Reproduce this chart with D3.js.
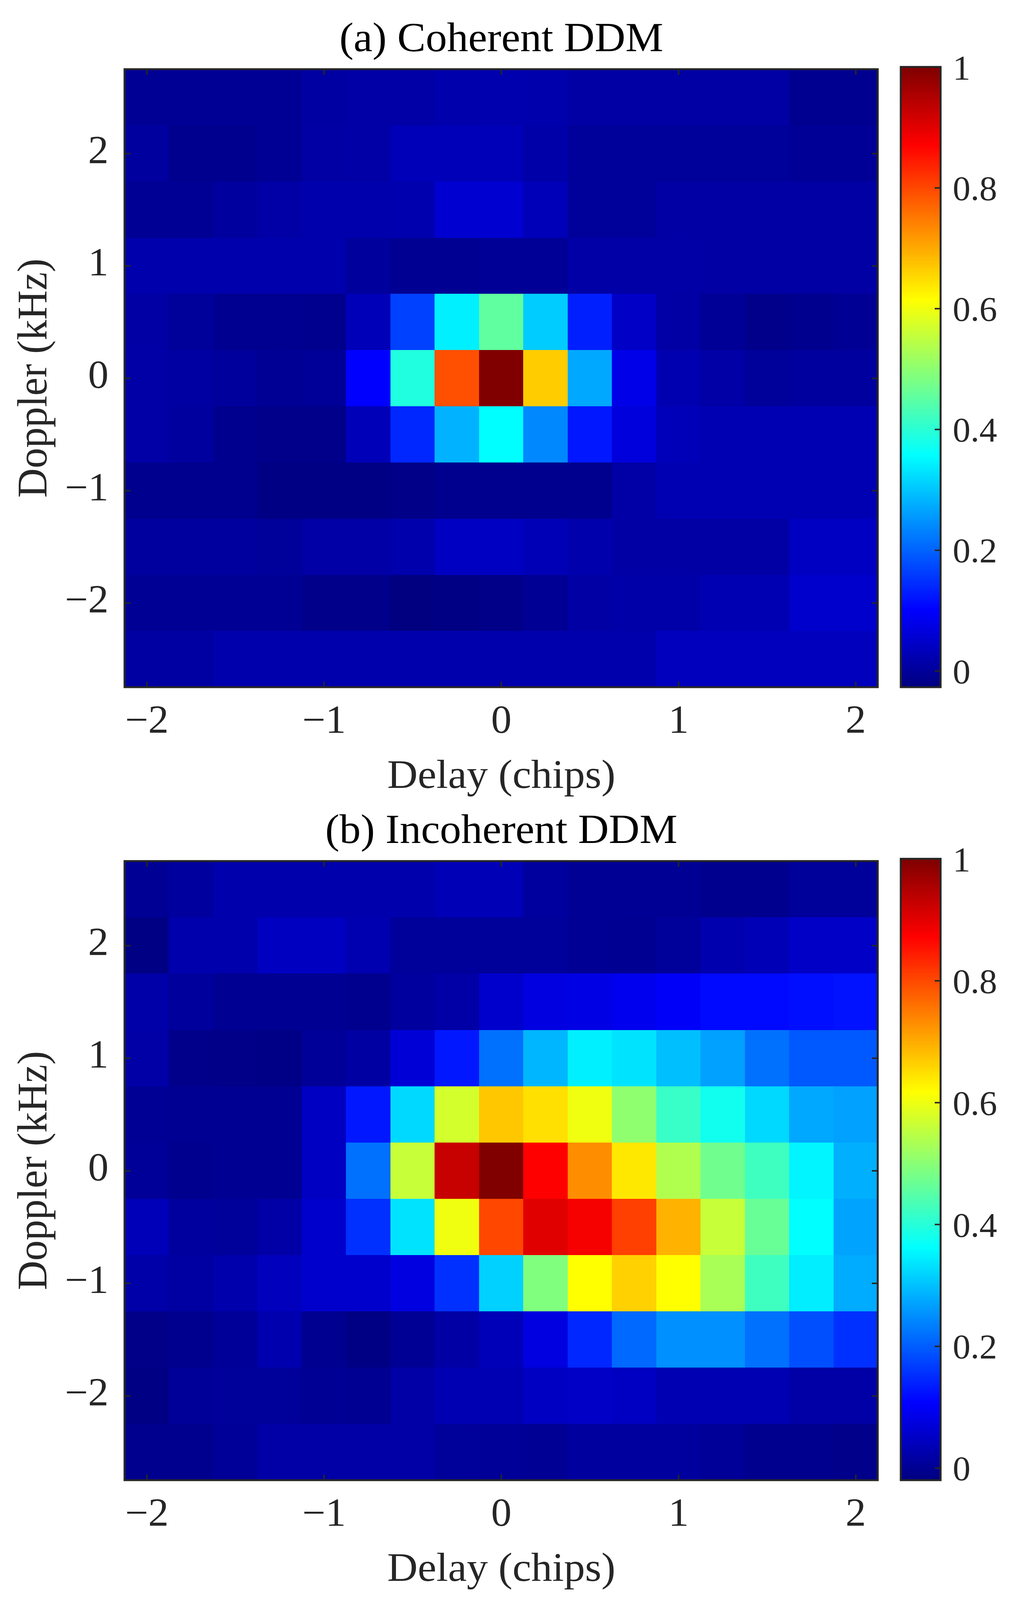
<!DOCTYPE html>
<html>
<head>
<meta charset="utf-8">
<script src="https://cdn.jsdelivr.net/npm/d3@7/dist/d3.min.js"></script>
<style>
html,body{margin:0;padding:0;background:#fff;overflow:hidden}
svg{display:block;width:100vw;height:100vh}
text{font-family:"Liberation Serif","Times New Roman",serif}
</style>
</head>
<body>
<script>
const delays = [-2,-1.75,-1.5,-1.25,-1,-0.75,-0.5,-0.25,0,0.25,0.5,0.75,1,1.25,1.5,1.75,2];
const dopplers = [2.5,2,1.5,1,0.5,0,-0.5,-1,-1.5,-2,-2.5];
const xTicks = [-2,-1,0,1,2];
const yTicks = [-2,-1,0,1,2];
const cTicks = [0,0.2,0.4,0.6,0.8,1];

const coherent = [
[-.006,-.006,-.006,-.006,.008,.012,.012,.018,.02,.018,.01,.01,.01,.01,.01,-.01,-.01],
[.005,-.012,-.012,-.005,.01,.012,.03,.03,.03,.015,0,0,0,0,0,-.003,-.003],
[-.006,-.006,.005,.012,.018,.018,.02,.055,.055,.03,0,0,.01,.01,.01,.01,.01],
[.018,.018,.018,.018,.018,.002,-.008,-.008,-.004,-.004,.012,.012,.012,.01,.01,.01,.01],
[.01,0,-.01,-.01,-.012,.03,.166,.343,.455,.307,.133,.045,.01,-.004,-.015,-.012,-.005],
[.012,.008,.002,-.005,-.002,.101,.39,.792,1,.666,.271,.078,.022,.012,0,.005,.005],
[.012,.005,-.012,-.015,-.015,.03,.141,.281,.358,.238,.125,.066,.03,.025,.025,.025,.025],
[-.012,-.012,-.012,-.022,-.022,-.022,-.018,-.012,-.012,-.012,-.012,.012,.025,.025,.025,.025,.025],
[.005,.005,.005,0,.012,.012,.018,.04,.04,.028,.018,.01,.01,.01,.01,.04,.04],
[-.005,-.005,-.005,-.005,-.015,-.015,-.025,-.022,-.018,-.005,.01,.015,.015,.025,.025,.05,.05],
[.008,.008,.018,.018,.018,.018,.018,.018,.018,.018,.018,.018,.035,.035,.035,.035,.035]
];
const incoherent = [
[-.005,.005,.018,.018,.018,.018,.018,.028,.028,.005,-.005,-.005,-.005,-.012,-.012,0,0],
[-.022,.018,.018,.038,.038,.022,0,0,0,0,-.005,-.008,0,.02,.028,.045,.045],
[.015,.002,-.008,-.008,-.008,-.012,.005,.012,.05,.07,.075,.085,.095,.11,.11,.115,.12],
[.012,-.015,-.018,-.02,-.002,.008,.06,.125,.214,.286,.343,.33,.294,.263,.214,.19,.19],
[-.005,-.008,-.008,-.008,.04,.125,.32,.571,.671,.646,.6,.503,.415,.374,.32,.271,.263],
[-.002,-.012,-.008,-.008,.04,.214,.558,.928,1,.872,.73,.638,.535,.471,.422,.348,.279],
[.03,.005,0,.012,.05,.15,.33,.6,.8,.902,.88,.807,.692,.558,.463,.358,.266],
[.015,.008,.018,.035,.05,.05,.07,.15,.312,.487,.615,.661,.615,.528,.422,.341,.275],
[-.018,-.012,-.002,.02,-.01,-.022,-.005,.01,.03,.07,.141,.207,.246,.246,.214,.181,.15],
[-.022,-.002,0,0,-.005,-.008,.012,.025,.025,.04,.045,.04,.025,.025,.025,.012,.012],
[-.012,-.012,-.002,.012,.012,.012,.012,0,-.002,-.005,.005,.005,.005,-.002,-.012,-.012,-.015]
];

const W = 2597, H = 4233;
const panels = [
  {title:"(a) Coherent DDM",   grid:coherent,   top:183,  bottom:1818, barTop:177,  cMin:-0.027, titleY:135},
  {title:"(b) Incoherent DDM", grid:incoherent, top:2278, bottom:3916, barTop:2272, cMin:-0.020, titleY:2230}
];
const left = 319, right = 2248, barL = 2307, barR = 2409;
const ink = "#262626";

const clamp = v => Math.max(0, Math.min(1, v));
function jet(t){
  const r = clamp(Math.min(4*t-1.5, -4*t+4.5));
  const g = clamp(Math.min(4*t-0.5, -4*t+3.5));
  const b = clamp(Math.min(4*t+0.5, -4*t+2.5));
  return d3.rgb(r*255, g*255, b*255).formatHex();
}
// cells were read against one common colour limit
const cellT = d3.scaleLinear().domain([-0.027,1]).range([0,1]);

// The browser window may be shorter than the reference: keep the whole figure in view.
const svg = d3.select("body").append("svg")
  .attr("viewBox",`0 0 ${W} ${H}`).attr("preserveAspectRatio","none");
svg.append("rect").attr("width",W).attr("height",H).attr("fill","#fff");

function styleAxis(g, size){
  g.select(".domain").remove();
  g.selectAll("line").attr("stroke",ink).attr("stroke-width",4);
  g.selectAll("text").attr("fill",ink).attr("font-size",size);
}

panels.forEach(p=>{
  const x = d3.scaleLinear().domain([-2.125,2.125]).range([left,right]);
  const y = d3.scaleLinear().domain([-2.75,2.75]).range([p.bottom,p.top]);
  const g = svg.append("g");

  const cells = p.grid.flatMap((row,i)=>row.map((v,j)=>({v,dl:delays[j],dp:dopplers[i]})));
  g.append("g").attr("shape-rendering","crispEdges").selectAll("rect").data(cells).join("rect")
    .attr("x",d=>x(d.dl-0.125)).attr("width",d=>x(d.dl+0.125)-x(d.dl-0.125))
    .attr("y",d=>y(d.dp+0.25)).attr("height",d=>y(d.dp-0.25)-y(d.dp+0.25))
    .attr("fill",d=>jet(cellT(d.v)));

  const fmt = d3.format("d");
  g.append("g").attr("transform",`translate(0,${p.bottom})`)
    .call(d3.axisBottom(x).tickValues(xTicks).tickSize(-15).tickPadding(46).tickFormat(fmt))
    .call(s=>styleAxis(s,105));
  g.append("g").attr("transform",`translate(0,${p.top})`)
    .call(d3.axisTop(x).tickValues(xTicks).tickSize(-15).tickFormat(""))
    .call(s=>styleAxis(s,105));
  g.append("g").attr("transform",`translate(${left},0)`)
    .call(d3.axisLeft(y).tickValues(yTicks).tickSize(-15).tickPadding(41).tickFormat(fmt))
    .call(s=>styleAxis(s,105))
    .selectAll("text").attr("dy","0.24em");
  g.append("g").attr("transform",`translate(${right},0)`)
    .call(d3.axisRight(y).tickValues(yTicks).tickSize(-15).tickFormat(""))
    .call(s=>styleAxis(s,105));
  g.append("rect").attr("x",left).attr("y",p.top).attr("width",right-left).attr("height",p.bottom-p.top)
    .attr("fill","none").attr("stroke",ink).attr("stroke-width",5);

  g.append("text").attr("x",1284).attr("y",p.titleY).attr("text-anchor","middle")
    .attr("font-size",109).attr("fill","#000").text(p.title);
  g.append("text").attr("x",1284).attr("y",p.bottom+266).attr("text-anchor","middle")
    .attr("font-size",108).attr("fill",ink).text("Delay (chips)");
  g.append("text").attr("transform",`translate(119,${(p.top+p.bottom)/2}) rotate(-90)`).attr("text-anchor","middle")
    .attr("font-size",108).attr("fill",ink).text("Doppler (kHz)");

  // colour bar
  const c = d3.scaleLinear().domain([p.cMin,1]).range([p.bottom,p.barTop]);
  const levels = d3.range(256);
  const lv = d3.scaleLinear().domain([0,256]).range([p.cMin,1]);
  g.append("g").attr("shape-rendering","crispEdges").selectAll("rect").data(levels).join("rect")
    .attr("x",barL).attr("width",barR-barL)
    .attr("y",i=>c(lv(i+1))).attr("height",i=>c(lv(i))-c(lv(i+1))+1)
    .attr("fill",i=>jet((i+0.5)/256));
  g.append("g").attr("transform",`translate(${barR},0)`)
    .call(d3.axisRight(c).tickValues(cTicks).tickSize(-15).tickPadding(31).tickFormat(d3.format("~g")))
    .call(s=>styleAxis(s,91))
    .selectAll("text").attr("dy","0.35em");
  g.append("rect").attr("x",barL).attr("y",p.barTop).attr("width",barR-barL).attr("height",p.bottom-p.barTop)
    .attr("fill","none").attr("stroke",ink).attr("stroke-width",5);
});
</script>
</body>
</html>
